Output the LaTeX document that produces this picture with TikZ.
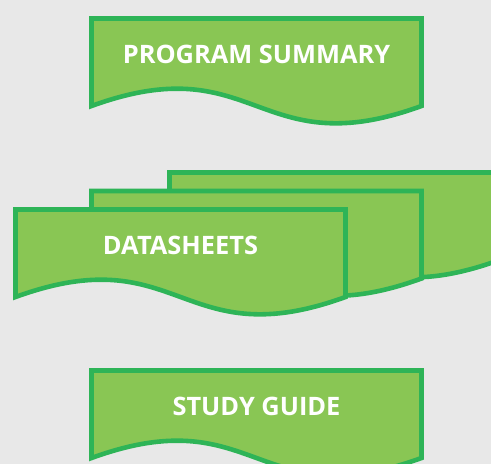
\documentclass[tikz,border=0pt]{standalone}
\usepackage{fontspec}
\setmainfont{Open Sans}
\definecolor{bgcol}{HTML}{E8E8E8}
\definecolor{docfill}{HTML}{89C654}
\definecolor{docline}{HTML}{2EB457}
\tikzset{
  docshape/.style={draw=docline, fill=docfill, line width=4.6pt, miter limit=10},
  lbl/.style={text=white, inner sep=0pt, anchor=center, font=\fontsize{25.4}{30}\selectfont\bfseries}
}
\newcommand\wavedoc[3]{% #1 x, #2 y, #3 name
  \path[docshape] (#1,#2) -- ({#1+330},#2) -- ({#1+330},{#2+87.5})
    .. controls ({#1+165},{#2+147.5}) and ({#1+165},{#2+27.5}) .. (#1,{#2+87.5}) -- cycle;
  \coordinate (#3) at ({#1+165},{#2+36});
}
\begin{document}
\begin{tikzpicture}[x=1pt,y=-1pt]
\useasboundingbox (0,0) rectangle (491,464);
\fill[bgcol] (0,0) rectangle (491,464);
\clip (0,0) rectangle (491,464);
\wavedoc{91.5}{18.5}{ps}
\node[lbl] (pstext) at (ps) {PROGRAM SUMMARY};
\wavedoc{169.5}{172.5}{dsback}
\wavedoc{91.5}{191}{dsmid}
\wavedoc{15.5}{209.5}{ds}
\node[lbl] (dstext) at (ds) {DATASHEETS};
\wavedoc{91.5}{370.5}{sg}
\node[lbl] (sgtext) at (sg) {STUDY GUIDE};
\end{tikzpicture}
\end{document}
